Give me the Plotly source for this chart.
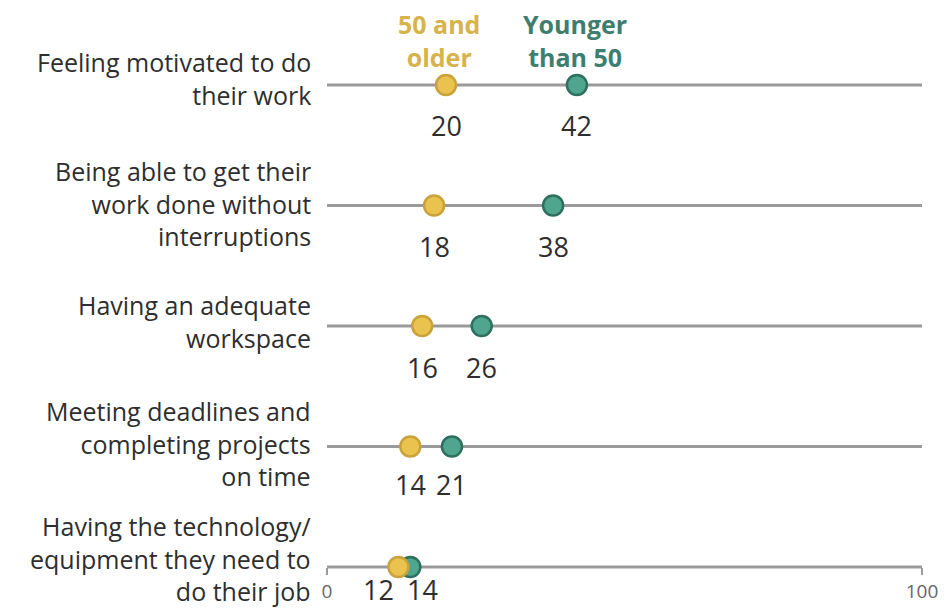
import plotly.graph_objects as go

# ---- data ----
categories = [
    "Feeling motivated to do<br>their work",
    "Being able to get their<br>work done without<br>interruptions",
    "Having an adequate<br>workspace",
    "Meeting deadlines and<br>completing projects<br>on time",
    "Having the technology/<br>equipment they need to<br>do their job",
]
older = [20, 18, 16, 14, 12]
younger = [42, 38, 26, 21, 14]
series_names = ["50 and<br>older", "Younger<br>than 50"]
axis_ticks = [0, 100]
axis_ticktext = ["0", "100"]

# ---- styling ----
# page body has an 8px margin, so the figure is 8px smaller in each direction
W, H = 938, 600
FONT = "Open Sans, Liberation Sans, Arial, sans-serif"
GOLD_FILL, GOLD_LINE, GOLD_TEXT = "#EAC24E", "#C9A23C", "#D7B34C"
TEAL_FILL, TEAL_LINE, TEAL_TEXT = "#4FA58E", "#2E6F60", "#3E7E6F"
RULE = "#9A9A9A"
TEXT = "#2E2E2E"

rows = list(range(len(categories)))
y_top, y_bot = -0.639, 4.340  # reversed y range so rows sit ~120px apart

fig = go.Figure()

# horizontal rules
for i in rows:
    fig.add_trace(go.Scatter(
        x=[axis_ticks[0], axis_ticks[1]], y=[i, i], mode="lines",
        line=dict(color=RULE, width=3), hoverinfo="skip",
        showlegend=False, cliponaxis=False))

# dots (younger first so gold sits on top where they overlap)
fig.add_trace(go.Scatter(
    x=younger, y=rows, mode="markers", name="Younger than 50",
    marker=dict(size=20, color=TEAL_FILL, line=dict(color=TEAL_LINE, width=2.5)),
    showlegend=False, cliponaxis=False))
fig.add_trace(go.Scatter(
    x=older, y=rows, mode="markers", name="50 and older",
    marker=dict(size=20, color=GOLD_FILL, line=dict(color=GOLD_LINE, width=2.5)),
    showlegend=False, cliponaxis=False))

annotations = []
label_yshift = [7, 2, 5, 3, 9]
for i, cat in enumerate(categories):
    annotations.append(dict(
        x=0, y=i, xref="x", yref="y", text=cat, showarrow=False,
        xanchor="right", yanchor="middle", align="right",
        xshift=-14, yshift=label_yshift[i],
        font=dict(family=FONT, size=25, color=TEXT)))

value_yshift = [-40, -41, -41, -38, -22]
old_xshift = [0, 0, 0, 0, -20]
young_xshift = [0, 0, 0, 0, 12]
for i in rows:
    annotations.append(dict(
        x=older[i], y=i, xref="x", yref="y", text=str(older[i]),
        showarrow=False, xanchor="center", yanchor="middle",
        xshift=old_xshift[i], yshift=value_yshift[i],
        font=dict(family=FONT, size=27, color=TEXT)))
    annotations.append(dict(
        x=younger[i], y=i, xref="x", yref="y", text=str(younger[i]),
        showarrow=False, xanchor="center", yanchor="middle",
        xshift=young_xshift[i], yshift=value_yshift[i],
        font=dict(family=FONT, size=27, color=TEXT)))

# series labels above the first row
annotations.append(dict(
    x=older[0], y=1, xref="x", yref="paper", text="<b>" + series_names[0] + "</b>",
    showarrow=False, xanchor="center", yanchor="top", xshift=-7, yshift=3,
    font=dict(family=FONT, size=25, color=GOLD_TEXT)))
annotations.append(dict(
    x=younger[0], y=1, xref="x", yref="paper", text="<b>" + series_names[1] + "</b>",
    showarrow=False, xanchor="center", yanchor="top", xshift=-2, yshift=3,
    font=dict(family=FONT, size=25, color=TEAL_TEXT)))

axis_pos = (y_bot - rows[-1]) / (y_bot - y_top)

fig.update_layout(
    width=W, height=H,
    margin=dict(l=319, r=24, t=0, b=0),
    paper_bgcolor="white", plot_bgcolor="white",
    annotations=annotations,
    xaxis=dict(range=[0, 100], showgrid=False, zeroline=False, showline=False,
               anchor="free", position=axis_pos,
               ticks="outside", ticklen=7, tickwidth=2, tickcolor=RULE,
               tickvals=axis_ticks, ticktext=axis_ticktext,
               tickfont=dict(family=FONT, size=19, color="#666666")),
    yaxis=dict(range=[y_bot, y_top], visible=False, showgrid=False, zeroline=False),
    showlegend=False,
)

fig.write_html("out.html")
